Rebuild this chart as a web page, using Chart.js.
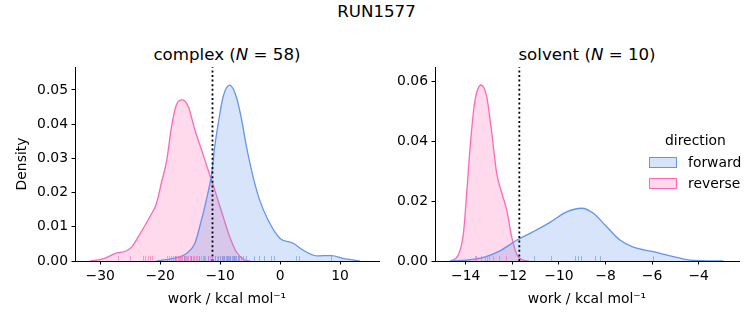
<!DOCTYPE html>
<html>
<head>
<meta charset="utf-8">
<script src="https://cdn.jsdelivr.net/npm/chart.js@4.4.1/dist/chart.umd.min.js"></script>
<style>
  body { margin: 0; width: 753px; height: 325px; background: #fff; position: relative; overflow: hidden;
         font-family: "DejaVu Sans", sans-serif; color: #000; }
  canvas { position: absolute; top: 0; }
  #complexChart { left: 0; }
  #solventChart { left: 392px; }
  .title { position: absolute; font-size: 16.67px; white-space: nowrap; transform: translate(-50%, -50%); line-height: 1; }
  .legend { position: absolute; font-size: 13.9px; line-height: 1; }
  .legend .swatch { position: absolute; width: 26px; height: 9px; border: 1px solid; }
  .legend .lbl { position: absolute; white-space: nowrap; transform: translateY(-50%); }
</style>
</head>
<body>
<div class="title" style="left:376.5px; top:12px;">RUN1577</div>
<div class="title" style="left:227px; top:55px;">complex (<i>N</i> = 58)</div>
<div class="title" style="left:587px; top:55px;">solvent (<i>N</i> = 10)</div>

<canvas id="complexChart" width="392" height="325"></canvas>
<canvas id="solventChart" width="361" height="325"></canvas>

<div class="legend" id="legend"></div>

<script>
// colours per direction
const directions = ["forward", "reverse"];
const lineColors = { forward: "#6495ED", reverse: "#FF69B4" };
const fillColors = { forward: "rgba(100,149,237,0.25)", reverse: "rgba(255,105,180,0.25)" };
const rugColors = { forward: "rgba(100,149,237,0.6)", reverse: "rgba(255,105,180,0.6)" };

// complex leg: KDE curves
const complexForwardX = [-20.6, -17.8, -15.6, -14.2, -13.4, -12.3, -11.4, -10.9, -10.3, -9.5, -8.4, -7.3, -6.4, -5.6, -4.5, -3.4, -2.0, 0, 2.2, 3.8, 6.1, 8.6, 10.5, 13.3];
const complexForwardY = [0, 0.0008, 0.0022, 0.0052, 0.0100, 0.0178, 0.0256, 0.0334, 0.0403, 0.0480, 0.0514, 0.0480, 0.0412, 0.0334, 0.0246, 0.0178, 0.0120, 0.0066, 0.0052, 0.0032, 0.0015, 0.0016, 0.0008, 0];
const complexReverseX = [-31.7, -29.5, -27.5, -25.6, -24.7, -23.3, -21.7, -20.6, -19.8, -18.9, -18.1, -17.3, -16.3, -15.3, -14.2, -13.1, -12.0, -10.9, -9.5, -8.4, -7.3, -5.9, -5.0];
const complexReverseY = [0, 0.0006, 0.0022, 0.0030, 0.0042, 0.0081, 0.0130, 0.0169, 0.0228, 0.0295, 0.0393, 0.0456, 0.0471, 0.0451, 0.0383, 0.0325, 0.0266, 0.0208, 0.0130, 0.0071, 0.0027, 0.0003, 0];
const complexForwardRug = [-17.5, -16.0, -14.8, -13.5, -12.6, -11.9, -11.3, -10.8, -10.2, -9.9, -9.6, -9.4, -9.2, -9.0, -8.8, -8.6, -8.4, -8.2, -8.0, -7.8, -7.6, -7.4, -7.2, -7.0, -6.8, -6.4, -6.1, -5.6, -4.2, -3.4, -2.6, -1.4, -0.9, 2.7, 3.2, 8.6];
const complexReverseRug = [-27.0, -25.0, -22.8, -22.4, -22.0, -21.6, -21.2, -18.7, -18.4, -18.1, -17.8, -17.5, -17.3, -17.0, -16.8, -16.6, -16.4, -16.2, -16.0, -15.8, -15.6, -15.4, -15.2, -15.0, -14.7, -14.5, -14.2, -14.0, -13.7, -13.4, -13.1, -12.8, -12.4, -12.0, -11.6, -11.2, -10.8, -10.4, -10.0, -9.6, -9.2, -8.7, -8.2, -7.6, -7.0];
const complexMarker = -11.27;

// solvent leg
const solventForwardX = [-14.67, -13.96, -13.24, -12.53, -11.8, -11.1, -10.38, -9.67, -9.02, -8.52, -7.95, -7.38, -6.81, -5.95, -5.23, -4.37, -2.94];
const solventForwardY = [0, 0.0003, 0.0012, 0.0034, 0.0070, 0.0098, 0.0129, 0.0164, 0.0176, 0.0159, 0.0114, 0.0070, 0.0046, 0.0031, 0.0017, 0.0003, 0];
const solventReverseX = [-14.67, -14.32, -14.1, -13.96, -13.8, -13.6, -13.34, -13.1, -12.88, -12.67, -12.45, -12.24, -12.03, -11.8, -11.53, -11.3];
const solventReverseY = [0, 0.0020, 0.0092, 0.0226, 0.0392, 0.0537, 0.0587, 0.0548, 0.0426, 0.0292, 0.0226, 0.0170, 0.0081, 0.0020, 0.0003, 0];
const solventForwardRug = [-11.06, -10.31, -9.27, -9.17, -9.02, -8.42, -8.22, -5.92];
const solventReverseRug = [-13.6, -13.53, -13.31, -13.17, -13.07, -12.96, -12.82, -12.53, -12.27];
const solventMarker = -11.7;

// axes
const complexXRange = [-34.2, 16.5];
const complexYMax = 0.0567;
const complexXTicks = [-30, -20, -10, 0, 10];
const complexYTicks = [0, 0.01, 0.02, 0.03, 0.04, 0.05];
const solventXRange = [-15.32, -2.27];
const solventYMax = 0.0647;
const solventXTicks = [-14, -12, -10, -8, -6, -4];
const solventYTicks = [0, 0.02, 0.04, 0.06];

Chart.defaults.font.family = '"DejaVu Sans", sans-serif';
Chart.defaults.font.size = 13.9;
Chart.defaults.color = "#000";

function rugMark(color) {
    const c = document.createElement("canvas");
    c.width = 1;
    c.height = 11;
    const g = c.getContext("2d");
    g.fillStyle = color;
    g.fillRect(0, 0, 1, 11);
    return c;
}

function pts(xs, ys) {
    return xs.map((x, i) => ({ x: x, y: ys[i] }));
}

function fmtMinus(v) {
    return v < 0 ? "\u2212" + Math.abs(v) : String(v);
}

function kdeSet(dir, xs, ys) {
    return {
        label: dir,
        data: pts(xs, ys),
        borderColor: lineColors[dir],
        backgroundColor: fillColors[dir],
        borderWidth: 1.3,
        fill: "origin",
        pointRadius: 0,
        cubicInterpolationMode: "monotone",
        order: dir === "forward" ? 3 : 4
    };
}

function rugSet(dir, xs) {
    return {
        label: dir + " rug",
        data: xs.map(x => ({ x: x, y: 0 })),
        showLine: false,
        pointStyle: rugMark(rugColors[dir]),
        pointRadius: 5,
        clip: 0,
        order: 0
    };
}

function markerSet(x, yMax) {
    return {
        label: "marker",
        data: [{ x: x, y: 0 }, { x: x, y: yMax }],
        borderColor: "#000",
        borderWidth: 1.8,
        borderDash: [2, 2.6],
        pointRadius: 0,
        fill: false,
        clip: false,
        order: 1
    };
}

function dibujar(id, opts) {
    const ctx = document.getElementById(id).getContext("2d");
    return new Chart(ctx, {
        type: "line",
        data: {
            datasets: [
                rugSet("forward", opts.fwdRug),
                rugSet("reverse", opts.revRug),
                markerSet(opts.marker, opts.yMax),
                kdeSet("forward", opts.fwdX, opts.fwdY),
                kdeSet("reverse", opts.revX, opts.revY)
            ]
        },
        options: {
            responsive: false,
            animation: false,
            devicePixelRatio: 1,
            layout: { padding: { top: 67, right: opts.padRight, bottom: 0, left: 0 } },
            plugins: { legend: { display: false }, tooltip: { enabled: false } },
            scales: {
                x: {
                    type: "linear",
                    min: opts.xRange[0],
                    max: opts.xRange[1],
                    afterBuildTicks: s => { s.ticks = opts.xTicks.map(v => ({ value: v })); },
                    afterFit: s => { s.height = 64; s.paddingLeft = 0; s.paddingRight = 0; },
                    grid: { display: true, drawOnChartArea: false, drawTicks: true, tickLength: 3.5, tickWidth: 1, tickColor: "#000" },
                    border: { display: true, color: "#000", width: 1 },
                    ticks: { padding: 3.5, color: "#000", maxRotation: 0, autoSkip: false, callback: v => fmtMinus(v) },
                    title: { display: true, text: "work / kcal mol\u207B\u00B9", color: "#000", font: { size: 13.9 }, padding: { top: 0, bottom: 17.7 } }
                },
                y: {
                    type: "linear",
                    min: 0,
                    max: opts.yMax,
                    afterBuildTicks: s => { s.ticks = opts.yTicks.map(v => ({ value: v })); },
                    afterFit: s => { s.width = opts.yWidth; s.paddingTop = 0; s.paddingBottom = 0; },
                    grid: { display: true, drawOnChartArea: false, drawTicks: true, tickLength: 3.5, tickWidth: 1, tickColor: "#000" },
                    border: { display: true, color: "#000", width: 1 },
                    ticks: { padding: 3.5, color: "#000", autoSkip: false, callback: v => v.toFixed(2) },
                    title: { display: opts.yTitle, text: "Density", color: "#000", font: { size: 13.9 }, padding: { top: 13.7, bottom: 0 } }
                }
            }
        }
    });
}

dibujar("complexChart", {
    fwdX: complexForwardX, fwdY: complexForwardY, revX: complexReverseX, revY: complexReverseY,
    fwdRug: complexForwardRug, revRug: complexReverseRug, marker: complexMarker,
    xRange: complexXRange, yMax: complexYMax, xTicks: complexXTicks, yTicks: complexYTicks,
    padRight: 13, yWidth: 75, yTitle: true
});

dibujar("solventChart", {
    fwdX: solventForwardX, fwdY: solventForwardY, revX: solventReverseX, revY: solventReverseY,
    fwdRug: solventForwardRug, revRug: solventReverseRug, marker: solventMarker,
    xRange: solventXRange, yMax: solventYMax, xTicks: solventXTicks, yTicks: solventYTicks,
    padRight: 14, yWidth: 43, yTitle: false
});

// legend (matplotlib style, inside the solvent panel)
const legend = document.getElementById("legend");
legend.innerHTML =
    '<div class="lbl" style="left:665px; top:141px;">direction</div>' +
    directions.map((d, i) =>
        '<div class="swatch" style="left:649px; top:' + (157 + i * 21) + 'px; border-color:' + lineColors[d] +
        '; background:' + fillColors[d] + ';"></div>' +
        '<div class="lbl" style="left:688px; top:' + (162.5 + i * 21) + 'px;">' + d + '</div>'
    ).join("");
</script>
</body>
</html>
